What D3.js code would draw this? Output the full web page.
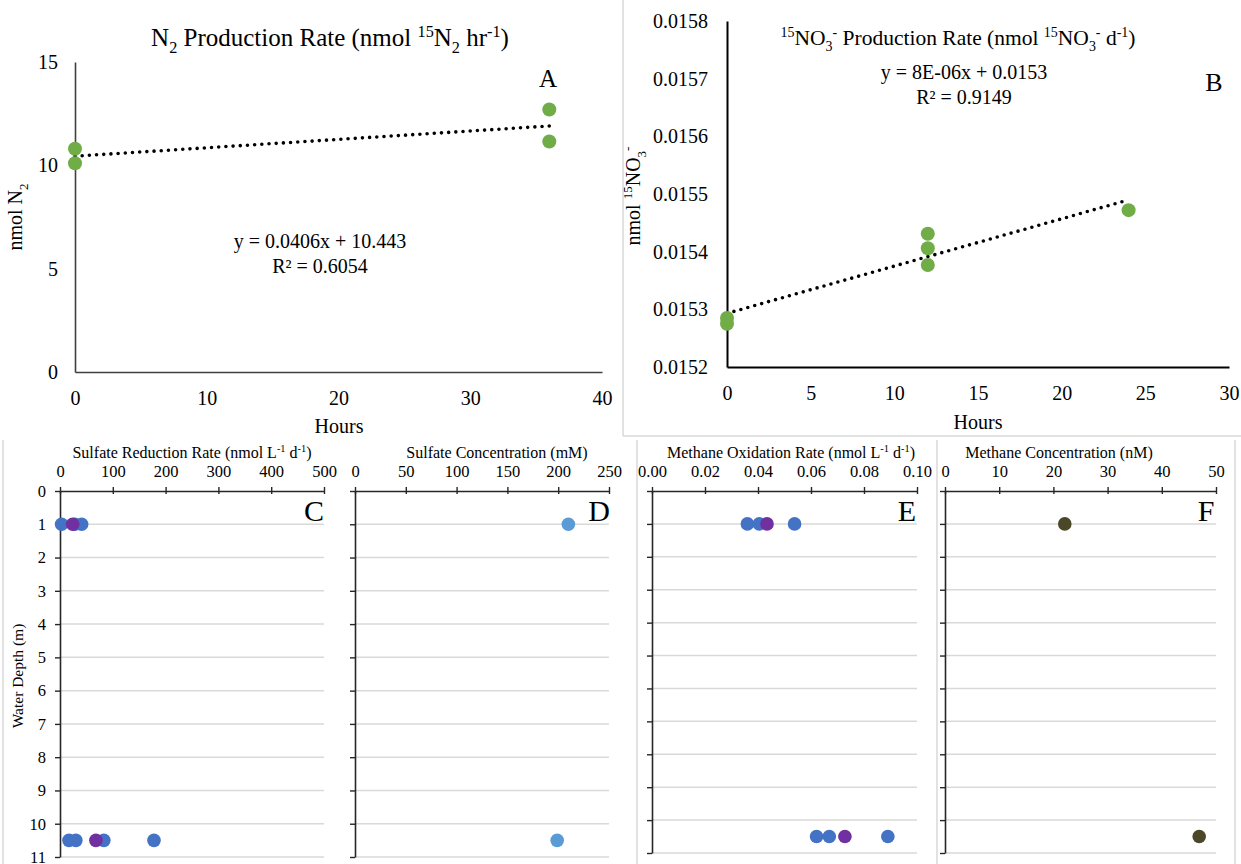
<!DOCTYPE html>
<html>
<head>
<meta charset="utf-8">
<script src="https://cdnjs.cloudflare.com/ajax/libs/d3/7.8.5/d3.min.js"></script>
<style>
  html, body { margin: 0; padding: 0; background: #fff; }
  svg { display: block; }
</style>
</head>
<body>
<script>
// ---------------- DATA ----------------
// Panel A: N2 production
const hoursA = [0, 0, 36, 36];
const n2A = [10.8, 10.1, 12.7, 11.15];
const trendA = [0.0406, 10.443];          // slope, intercept
const trendRangeA = [0, 36];
const xTicksA = [0, 10, 20, 30, 40];
const yTicksA = [0, 5, 10, 15];
const eqA = ["y = 0.0406x + 10.443", "R² = 0.6054"];

// Panel B: 15NO3- production
const hoursB = [0, 0, 12, 12, 12, 24];
const no3B = [0.015285, 0.015275, 0.015431, 0.015406, 0.015377, 0.015472];
const trendB = [0.0000082, 0.015293];
const trendRangeB = [0, 24];
const xTicksB = [0, 5, 10, 15, 20, 25, 30];
const yTicksB = [0.0152, 0.0153, 0.0154, 0.0155, 0.0156, 0.0157, 0.0158];
const eqB = ["y = 8E-06x + 0.0153", "R² = 0.9149"];

// Depth profiles
const depthTicks = [0, 1, 2, 3, 4, 5, 6, 7, 8, 9, 10, 11];
const gridDepths = [1, 2, 3, 4, 5, 6, 7, 8, 9, 10, 11];

// C: Sulfate reduction rate
const srrDepth = [1, 1, 1, 10.5, 10.5, 10.5, 10.5];
const srrValues = [3, 28, 41, 17, 30, 83, 178];
const srrMeanDepth = [1, 10.5];
const srrMean = [24, 68];
const srrTicks = [0, 100, 200, 300, 400, 500];

// D: Sulfate concentration
const so4Depth = [1, 10.5];
const so4Values = [210, 199];
const so4Ticks = [0, 50, 100, 150, 200, 250];

// E: Methane oxidation rate
const moxDepth = [1, 1, 1, 10.5, 10.5, 10.5];
const moxValues = [0.036, 0.0405, 0.0538, 0.0621, 0.0669, 0.089];
const moxMeanDepth = [1, 10.5];
const moxMean = [0.0434, 0.0728];
const moxTicks = [0, 0.02, 0.04, 0.06, 0.08, 0.10];

// F: Methane concentration
const ch4Depth = [1, 10.5];
const ch4Values = [22.1, 46.9];
const ch4Ticks = [0, 10, 20, 30, 40, 50];

// ---------------- DRAWING ----------------
const W = 1241, H = 864;
const FONT = "'Liberation Serif', 'Times New Roman', serif";
const GREEN = "#70ad47", BLUE = "#4472c4", PURPLE = "#7030a0", LBLUE = "#5b9bd5", OLIVE = "#4b4729";
const AXIS = "#262626", GRID = "#d9d9d9", FRAME = "#d9d9d9";

const svg = d3.select("body").append("svg")
  .attr("width", W).attr("height", H)
  .style("font-family", FONT);
svg.append("rect").attr("width", W).attr("height", H).attr("fill", "#fff");

// rich text helper: segments [{t, s:'sub'|'sup'}]
function rich(g, x, y, size, segs, opts = {}) {
  const t = g.append("text").attr("x", x).attr("y", y)
    .attr("font-size", size).attr("fill", "#000")
    .attr("text-anchor", opts.anchor || "middle");
  if (opts.rotate) t.attr("transform", `rotate(-90,${x},${y})`);
  let off = 0;
  segs.forEach(sg => {
    let target = 0, fs = size;
    if (sg.s === "sub") { target = size * 0.28; fs = size * 0.65; }
    if (sg.s === "sup") { target = -size * 0.38; fs = size * 0.65; }
    const ts = t.append("tspan").text(sg.t).attr("font-size", fs);
    const dy = target - off;
    if (dy !== 0) ts.attr("dy", dy);
    off = target;
  });
  return t;
}

function frameLine(x1, y1, x2, y2) {
  svg.append("line").attr("x1", x1).attr("y1", y1).attr("x2", x2).attr("y2", y2)
    .attr("stroke", FRAME).attr("stroke-width", 1.5);
}

// frames
frameLine(623, 0, 623, 436);
frameLine(623, 436, 1241, 436);
frameLine(637, 440, 637, 864);
frameLine(937, 440, 937, 864);
frameLine(1235, 440, 1235, 864);
frameLine(3, 440, 3, 864);

function styleAxis(g, size) {
  g.selectAll(".domain").attr("stroke", AXIS).attr("stroke-width", 1.6);
  g.selectAll(".tick line").attr("stroke", AXIS).attr("stroke-width", 1.4);
  g.selectAll(".tick text").attr("font-family", FONT).attr("font-size", size).attr("fill", "#000");
}

// ---------- Panel A ----------
{
  const g = svg.append("g");
  const x = d3.scaleLinear().domain([0, 40]).range([75, 602]);
  const y = d3.scaleLinear().domain([0, 15]).range([372, 62]);
  const ax = g.append("g").attr("transform", `translate(0,${y(0)})`)
    .call(d3.axisBottom(x).tickValues(xTicksA).tickSize(0).tickPadding(19));
  styleAxis(ax, 20);
  const ay = g.append("g").attr("transform", `translate(${x(0)},0)`)
    .call(d3.axisLeft(y).tickValues(yTicksA).tickSize(0).tickPadding(17));
  styleAxis(ay, 20);
  ax.select(".domain").attr("stroke", "#404040");
  ay.select(".domain").attr("stroke", "#404040");

  const line = d3.line().x(d => x(d)).y(d => y(trendA[0] * d + trendA[1]));
  g.append("path").attr("d", line(trendRangeA)).attr("fill", "none")
    .attr("stroke", "#000").attr("stroke-width", 3.6)
    .attr("stroke-linecap", "round").attr("stroke-dasharray", "0 7.2");

  g.selectAll("circle").data(hoursA).join("circle")
    .attr("cx", d => x(d)).attr("cy", (d, i) => y(n2A[i])).attr("r", 7).attr("fill", GREEN);

  rich(g, 330, 46, 25, [{t: "N"}, {t: "2", s: "sub"}, {t: " Production  Rate (nmol "}, {t: "15", s: "sup"},
    {t: "N"}, {t: "2", s: "sub"}, {t: " hr"}, {t: "-1", s: "sup"}, {t: ")"}]);
  rich(g, 22, 217, 20, [{t: "nmol N"}, {t: "2", s: "sub"}], {rotate: true});
  rich(g, 339, 433, 20, [{t: "Hours"}]);
  rich(g, 548, 87, 25, [{t: "A"}]);
  rich(g, 320, 248, 20, [{t: eqA[0]}]);
  rich(g, 320, 273, 20, [{t: eqA[1]}]);
}

// ---------- Panel B ----------
{
  const g = svg.append("g");
  const x = d3.scaleLinear().domain([0, 30]).range([727, 1229]);
  const y = d3.scaleLinear().domain([0.0152, 0.0158]).range([367, 21]);
  const ax = g.append("g").attr("transform", `translate(0,${y(0.0152)})`)
    .call(d3.axisBottom(x).tickValues(xTicksB).tickSize(0).tickPadding(19));
  styleAxis(ax, 20);
  const ay = g.append("g").attr("transform", `translate(${x(0)},0)`)
    .call(d3.axisLeft(y).tickValues(yTicksB).tickSize(0).tickPadding(19).tickFormat(d3.format(".4f")));
  styleAxis(ay, 20);
  ax.select(".domain").attr("stroke", "#000").attr("stroke-width", 2);
  ay.select(".domain").attr("stroke", "#000").attr("stroke-width", 2);

  const line = d3.line().x(d => x(d)).y(d => y(trendB[0] * d + trendB[1]));
  g.append("path").attr("d", line(trendRangeB)).attr("fill", "none")
    .attr("stroke", "#000").attr("stroke-width", 3.6)
    .attr("stroke-linecap", "round").attr("stroke-dasharray", "0 7.2");

  g.selectAll("circle").data(hoursB).join("circle")
    .attr("cx", d => x(d)).attr("cy", (d, i) => y(no3B[i])).attr("r", 7).attr("fill", GREEN);

  rich(g, 958, 45, 21.5, [{t: "15", s: "sup"}, {t: "NO"}, {t: "3", s: "sub"}, {t: "-", s: "sup"},
    {t: " Production  Rate (nmol "}, {t: "15", s: "sup"}, {t: "NO"}, {t: "3", s: "sub"}, {t: "-", s: "sup"},
    {t: " d"}, {t: "-1", s: "sup"}, {t: ")"}]);
  rich(g, 640, 196, 20, [{t: "nmol "}, {t: "15", s: "sup"}, {t: "NO"}, {t: "3", s: "sub"}, {t: "-", s: "sup"}], {rotate: true});
  rich(g, 978, 429, 20, [{t: "Hours"}]);
  rich(g, 1214, 91, 26, [{t: "B"}]);
  rich(g, 964, 79, 20, [{t: eqB[0]}]);
  rich(g, 964, 104, 20, [{t: eqB[1]}]);
}

// ---------- Depth panels ----------
function depthPanel(cfg) {
  const g = svg.append("g");
  const x = d3.scaleLinear().domain(cfg.domain).range([cfg.x0, cfg.x1]);
  const y = d3.scaleLinear().domain([0, 11]).range([491, cfg.yb]);
  // gridlines
  g.selectAll("line.grid").data(gridDepths).join("line").attr("class", "grid")
    .attr("x1", cfg.x0).attr("x2", cfg.x1)
    .attr("y1", d => y(d)).attr("y2", d => y(d))
    .attr("stroke", GRID).attr("stroke-width", 1.5);
  const ax = g.append("g").attr("transform", `translate(0,${y(0)})`)
    .call(d3.axisTop(x).tickValues(cfg.ticks).tickSizeInner(4).tickSizeOuter(0).tickPadding(10)
      .tickFormat(cfg.fmt));
  styleAxis(ax, 16.5);
  ax.selectAll(".tick line").attr("y1", 3).attr("y2", -4);
  const ay = g.append("g").attr("transform", `translate(${cfg.x0},0)`)
    .call(d3.axisLeft(y).tickValues(depthTicks).tickSizeInner(5).tickSizeOuter(0).tickPadding(9)
      .tickFormat(cfg.showDepth ? d3.format("d") : () => ""));
  styleAxis(ay, 16.5);
  cfg.series.forEach(s => {
    g.append("g").selectAll("circle").data(s.vals).join("circle")
      .attr("cx", d => x(d)).attr("cy", (d, i) => y(s.depths[i])).attr("r", 6.8).attr("fill", s.color);
  });
  rich(g, cfg.titleX, 458, 16, cfg.title);
  rich(g, cfg.x1 - 10, 521, 30, [{t: cfg.letter}]);
  return g;
}

depthPanel({
  x0: 60, x1: 324, yb: 857, domain: [0, 500], ticks: srrTicks, fmt: d3.format("d"), showDepth: true,
  series: [{vals: srrValues, depths: srrDepth, color: BLUE}, {vals: srrMean, depths: srrMeanDepth, color: PURPLE}],
  titleX: 192, letter: "C",
  title: [{t: "Sulfate Reduction Rate (nmol L"}, {t: "-1", s: "sup"}, {t: " d"}, {t: "-1", s: "sup"}, {t: ")"}]
});
depthPanel({
  x0: 355, x1: 609, yb: 857, domain: [0, 250], ticks: so4Ticks, fmt: d3.format("d"), showDepth: false,
  series: [{vals: so4Values, depths: so4Depth, color: LBLUE}],
  titleX: 497, letter: "D",
  title: [{t: "Sulfate Concentration (mM)"}]
});
depthPanel({
  x0: 652, x1: 917, yb: 853, domain: [0, 0.1], ticks: moxTicks, fmt: d3.format(".2f"), showDepth: false,
  series: [{vals: moxValues, depths: moxDepth, color: BLUE}, {vals: moxMean, depths: moxMeanDepth, color: PURPLE}],
  titleX: 791, letter: "E",
  title: [{t: "Methane Oxidation Rate (nmol L"}, {t: "-1", s: "sup"}, {t: " d"}, {t: "-1", s: "sup"}, {t: ")"}]
});
depthPanel({
  x0: 945, x1: 1216, yb: 853, domain: [0, 50], ticks: ch4Ticks, fmt: d3.format("d"), showDepth: false,
  series: [{vals: ch4Values, depths: ch4Depth, color: OLIVE}],
  titleX: 1059, letter: "F",
  title: [{t: "Methane Concentration (nM)"}]
});

rich(svg, 23, 676, 15.5, [{t: "Water Depth (m)"}], {rotate: true});
</script>
</body>
</html>
